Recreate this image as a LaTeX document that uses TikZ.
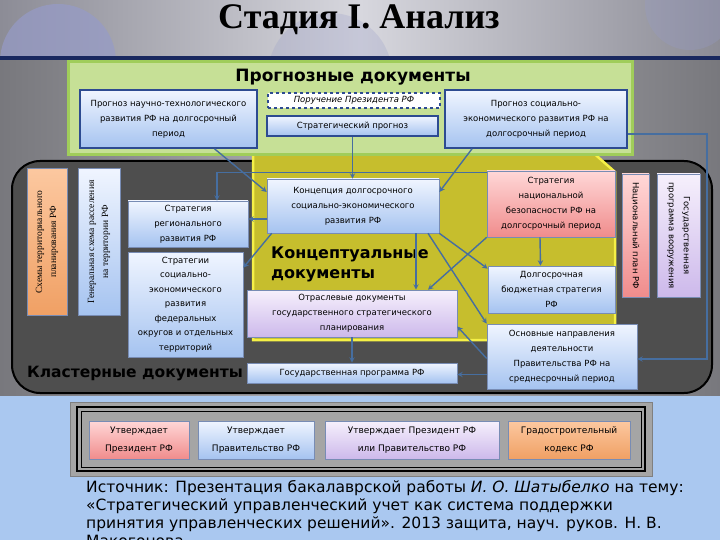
\documentclass[tikz,border=0pt]{standalone}
\usepackage{fontspec}
\setmainfont{DejaVu Sans}
\newfontfamily\titlefont{Liberation Serif}
\newfontfamily\serifbox{Liberation Serif}
\usetikzlibrary{positioning}

\definecolor{blueTop}{RGB}{240,245,255}
\definecolor{blueBot}{RGB}{165,195,240}
\definecolor{pinkTop}{RGB}{255,215,215}
\definecolor{pinkBot}{RGB}{240,140,140}
\definecolor{lilacTop}{RGB}{246,240,252}
\definecolor{lilacBot}{RGB}{205,185,235}
\definecolor{orangeTop}{RGB}{252,200,160}
\definecolor{orangeBot}{RGB}{240,160,100}
\definecolor{boxEdge}{RGB}{120,140,180}
\definecolor{progEdge}{RGB}{45,75,145}
\definecolor{linkBlue}{RGB}{70,110,160}
\definecolor{greenPanel}{RGB}{198,224,150}
\definecolor{greenEdge}{RGB}{160,205,90}
\definecolor{yellowPanel}{RGB}{198,190,45}
\definecolor{yellowEdge}{RGB}{245,240,70}
\definecolor{darkPanel}{RGB}{78,78,78}
\definecolor{bgSide}{RGB}{140,140,150}
\definecolor{bgMid}{RGB}{215,215,222}
\definecolor{midSide}{RGB}{120,120,125}
\definecolor{midMid}{RGB}{178,178,184}
\definecolor{bottomBlue}{RGB}{170,200,240}
\definecolor{navy}{RGB}{25,40,95}
\definecolor{legendGrey}{RGB}{165,165,165}
\definecolor{lavender}{RGB}{150,155,200}

\begin{document}
\begin{tikzpicture}[x=1pt,y=-1pt]
    \tikzstyle{every node} = [font=\fontsize{8.5}{15}\selectfont, inner sep=1pt]
    \tikzstyle{doc} = [draw=boxEdge, line width=0.6pt, rectangle, align=center]
    \tikzstyle{bluedoc} = [doc, top color=blueTop, bottom color=blueBot]
    \tikzstyle{pinkdoc} = [doc, top color=pinkTop, bottom color=pinkBot]
    \tikzstyle{lilacdoc} = [doc, top color=lilacTop, bottom color=lilacBot]
    \tikzstyle{orangedoc} = [doc, top color=orangeTop, bottom color=orangeBot]
    \tikzstyle{prog} = [bluedoc, draw=progEdge, line width=1.6pt]
    \tikzstyle{heading} = [font=\fontsize{16}{20}\selectfont\bfseries]
    \tikzstyle{legendbox} = [minimum height=38pt, font=\fontsize{9}{18}\selectfont]
    \tikzstyle{link} = [-stealth, line width=1.4pt, draw=linkBlue]
    \useasboundingbox (0,0) rectangle (720,540);
    \clip (0,0) rectangle (720,540);

    % background
    \shade[left color=bgSide, right color=bgSide, middle color=bgMid] (0,0) rectangle (720,60);
    \fill[lavender, opacity=0.7] (58,62) circle [radius=58];
    \fill[lavender, opacity=0.25] (330,75) circle [radius=62];
    \fill[lavender, opacity=0.3] (690,5) circle [radius=45];
    \shade[left color=midSide, right color=midSide, middle color=midMid] (0,60) rectangle (720,396);
    \fill[bottomBlue] (0,396) rectangle (720,540);
    \fill[navy] (0,56) rectangle (720,60);
    \node[font=\titlefont\bfseries\fontsize{36}{40}\selectfont] (stage) at (359,20) {Стадия I. Анализ};

    % panels
    \filldraw[fill=darkPanel, draw=black, line width=2pt, rounded corners=28pt] (12,161) rectangle (712,393);
    \filldraw[fill=yellowPanel, draw=yellowEdge, line width=2.5pt] (253,150) -- (590,150) -- (615,172) -- (615,340) -- (253,340) -- cycle;
    \filldraw[fill=greenPanel, draw=greenEdge, line width=3pt] (68,62) rectangle (632,155);

    % place nodes
    \node[heading, font=\fontsize{17}{20}\selectfont\bfseries] (progTitle) at (353,77) {Прогнозные документы};
    \node[prog, minimum width=177pt, minimum height=58pt] (progNT) at (168.5,119) {Прогноз научно-технологического\\развития РФ на долгосрочный\\период};
    \node[doc, draw=progEdge, line width=1.2pt, dashed, fill=white, minimum width=172pt, minimum height=15pt, font=\fontsize{8.5}{9}\selectfont\itshape] (order) at (354,100.5) {Поручение Президента РФ};
    \node[prog, minimum width=171pt, minimum height=20pt] (stratProg) at (352.5,126) {Стратегический прогноз};
    \node[prog, minimum width=182pt, minimum height=58pt] (progSE) at (536,119) {Прогноз социально-\\экономического развития РФ на\\долгосрочный период};

    \node[orangedoc, rotate=90, minimum width=147pt, minimum height=40pt, font=\serifbox\fontsize{9.5}{14}\selectfont] (terrPlan) at (47,242) {Схемы территориального\\планирования РФ};
    \node[bluedoc, rotate=90, minimum width=147pt, minimum height=42pt, font=\serifbox\fontsize{9.5}{14}\selectfont] (genScheme) at (99,242) {Генеральная схема расселения\\на территории РФ};
    \node[bluedoc, minimum width=120pt, minimum height=46pt] (region) at (188,224) {Стратегия\\регионального\\развития РФ};
    \node[bluedoc, minimum width=115pt, minimum height=105pt, font=\fontsize{8.5}{14.5}\selectfont] (federal) at (185.5,304.5) {Стратегии\\социально-\\экономического\\развития\\федеральных\\округов и отдельных\\территорий};
    \node[heading, font=\fontsize{15.5}{20}\selectfont\bfseries] (clusterTitle) at (135,374) {Кластерные документы};

    \node[bluedoc, minimum width=172pt, minimum height=54pt] (concept) at (353,206) {Концепция долгосрочного\\социально-экономического\\развития РФ};
    \node[heading, align=left, anchor=west] (conceptTitle) at (270,264) {Концептуальные\\документы};
    \node[lilacdoc, minimum width=210pt, minimum height=47pt] (branch) at (352,313.5) {Отраслевые документы\\государственного стратегического\\планирования};
    \node[bluedoc, minimum width=210pt, minimum height=20pt] (stateProg) at (352,373) {Государственная программа РФ};

    \node[pinkdoc, minimum width=128pt, minimum height=66pt] (security) at (551,204) {Стратегия\\национальной\\безопасности РФ на\\долгосрочный период};
    \node[pinkdoc, rotate=-90, minimum width=123pt, minimum height=27pt] (natPlan) at (635.5,235.5) {Национальный план РФ};
    \node[lilacdoc, rotate=-90, minimum width=123pt, minimum height=43pt] (armsProg) at (678.5,235.5) {Государственная\\программа вооружения};
    \node[bluedoc, minimum width=127pt, minimum height=47pt] (budget) at (551.5,289.5) {Долгосрочная\\бюджетная стратегия\\РФ};
    \node[bluedoc, minimum width=150pt, minimum height=65pt] (govMain) at (562,356.5) {Основные направления\\деятельности\\Правительства РФ на\\среднесрочный период};

    % Connections
    \draw[link] ([xshift=46pt]progNT.south) -- ([yshift=14pt]concept.west);
    \draw[link] (stratProg.south) -- (stratProg.south |- concept.north);
    \draw[link] ([xshift=-64pt]progSE.south) -- ([yshift=14pt]concept.east);
    \draw[link] ([yshift=-2pt]security.north west) -| ([xshift=29pt]region.north);
    \draw[link] ([yshift=-13pt]concept.west) -- ([yshift=5pt]region.east);
    \draw[link] ([xshift=5pt]concept.south west) -- ([yshift=-16pt]federal.north east);
    \draw[link] ([xshift=63pt]concept.south) -- ([xshift=64pt]branch.north);
    \draw[link] ([xshift=75pt]concept.south) -- (govMain.north west);
    \draw[link] (concept.south east) -- ([yshift=-3pt]budget.north west);
    \draw[link] (security.south west) -- ([xshift=76pt]branch.north);
    \draw[link] ([xshift=-11pt]security.south) -- ([xshift=-11pt]budget.north);
    \draw[link] ([yshift=-2pt]govMain.west) -- ([yshift=-13pt]branch.east);
    \draw[link] ([yshift=-18pt]govMain.west) -- ([yshift=-1.5pt]stateProg.east);
    \draw[link] (branch.south) -- (stateProg.north);
    \coordinate (rightBend) at (707,134);
    \draw[link] ([yshift=-15pt]progSE.east) -- (rightBend) |- ([yshift=-2.5pt]govMain.east);

    % legend
    \filldraw[fill=legendGrey, draw=gray] (70,402) rectangle (652,476);
    \draw[black, line width=1.5pt] (77,407) rectangle (645,471);
    \draw[black, line width=0.6pt] (81,411) rectangle (641,467);
    \node[pinkdoc, legendbox, minimum width=100pt] (byPresident) at (139,440) {Утверждает\\Президент РФ};
    \node[bluedoc, legendbox, minimum width=116pt] (byGov) at (256,440) {Утверждает\\Правительство РФ};
    \node[lilacdoc, legendbox, minimum width=174pt] (byEither) at (412,440) {Утверждает Президент РФ\\или Правительство РФ};
    \node[orangedoc, legendbox, minimum width=122pt] (townCode) at (569,440) {Градостроительный\\кодекс РФ};

    \node[anchor=north west, align=left, font=\fontsize{15.5}{18}\selectfont] (source) at (85,479) {Источник: Презентация бакалаврской работы \textit{И. О. Шатыбелко} на тему:\\«Стратегический управленческий учет как система поддержки\\принятия управленческих решений». 2013 защита, науч. руков. Н. В.\\Макогонова};
\end{tikzpicture}
\end{document}
